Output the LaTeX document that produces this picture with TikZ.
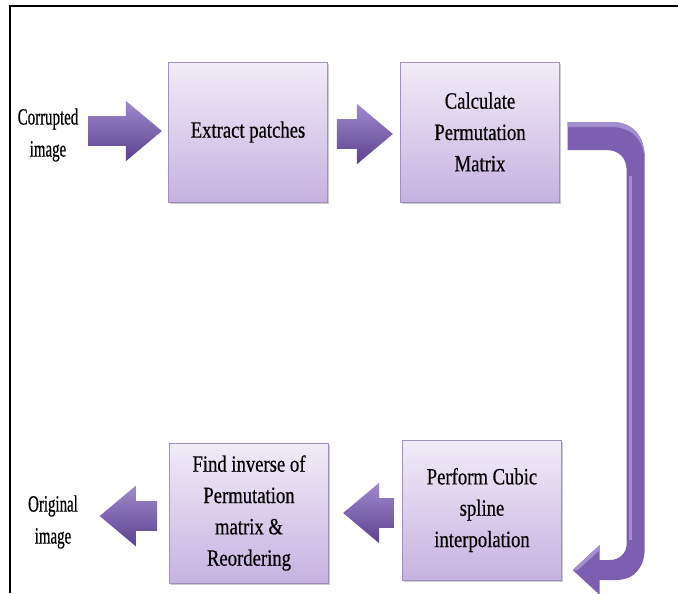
\documentclass[tikz,border=0pt]{standalone}
\usepackage{fontspec}
\setmainfont{Liberation Serif}
\newfontfamily\tf[FakeStretch=0.8,FakeBold=0.5]{Liberation Serif}
\newfontfamily\tfn[FakeStretch=0.64,FakeBold=0.5]{Liberation Serif}
\usetikzlibrary{shapes.arrows,calc,shadows}
\definecolor{boxtop}{HTML}{F1ECF8}
\definecolor{boxbot}{HTML}{C6B2E0}
\definecolor{boxline}{HTML}{A090BC}
\definecolor{arrtop}{HTML}{A08ACD}
\definecolor{arrbot}{HTML}{5C4190}
\definecolor{arrmid}{HTML}{7C5FB0}
\definecolor{arrhi}{HTML}{A48FD2}
\begin{document}
\begin{tikzpicture}[x=0.75pt,y=-0.75pt,
  txt/.style={align=center, font=\tf\fontsize{17.5}{23.5}\selectfont, inner sep=0pt},
  sidetxt/.style={align=center, font=\tfn\fontsize{17.5}{24}\selectfont, inner sep=0pt},
  stepbox/.style={txt, draw=boxline, line width=0.6pt, top color=boxtop, bottom color=boxbot,
    minimum width=119pt, minimum height=105pt,
    drop shadow={shadow xshift=1.2pt, shadow yshift=-1.2pt, fill=black!45, opacity=0.45}},
  blockarrow/.style={single arrow, draw=none, top color=arrtop, bottom color=arrbot,
    inner xsep=0pt, inner ysep=11pt, single arrow tip angle=80,
    single arrow head extend=11.5pt}
]
\useasboundingbox (0,0) rectangle (678,593);
\fill[white] (0,0) rectangle (678,593);
% page frame
\draw[line width=1.7pt] (10,593) -- (10,6) -- (678,6);

% boxes
\node[stepbox] (ext)  at (248,132) {Extract patches};
\node[stepbox] (calc) at (480,132) {Calculate\\Permutation\\Matrix};
\node[stepbox] (perf) at (482,510) {Perform Cubic\\spline\\interpolation};
\node[stepbox] (find) at (249,513) {Find inverse of\\Permutation\\matrix \&\\Reordering};

% free texts
\node[sidetxt] (cor) at (48,135) {Corrupted\\image};
\node[sidetxt] (orig) at (53,522) {Original\\image};

% straight block arrows
\node[blockarrow, minimum height=55pt, anchor=tip] (a1) at ($(ext.west)+(-6,-1)$) {};
\node[blockarrow, minimum height=42pt, anchor=tip] (a2) at ($(calc.west)+(-7,2)$) {};
\node[blockarrow, minimum height=38pt, shape border rotate=180, anchor=tip] (a3) at ($(find.east)+(14,0)$) {};
\node[blockarrow, minimum height=43pt, shape border rotate=180, anchor=tip] (a4) at ($(find.west)+(-70,3)$) {};

% bent arrow from calc to perf
\begin{scope}[shift={(calc.east)}]
  % calc.east = (560,132) in page px
  \fill[arrmid]
    (8,-10) -- (52,-10) .. controls (72,-10) and (85,3) .. (85,26)
    -- (85,416) .. controls (85,434) and (76,448) .. (56,448)
    -- (40,448) -- (40,463) -- (13,438) -- (40,413) -- (40,428)
    -- (50,428) .. controls (60,428) and (67,421) .. (67,411)
    -- (67,40) .. controls (67,26) and (60,18) .. (46,18)
    -- (8,18) -- cycle;
  \fill[arrhi]
    (8,-10) -- (52,-10) .. controls (72,-10) and (85,3) .. (85,26)
    -- (85,30) .. controls (85,8) and (72,-5) .. (52,-5) -- (8,-5) -- cycle;
  \draw[arrhi, line width=2pt]
    (71,44) -- (71,408);
  \fill[arrhi] (13,438) -- (40,413) -- (40,418) -- (18,438) -- cycle;
\end{scope}
\end{tikzpicture}
\end{document}
